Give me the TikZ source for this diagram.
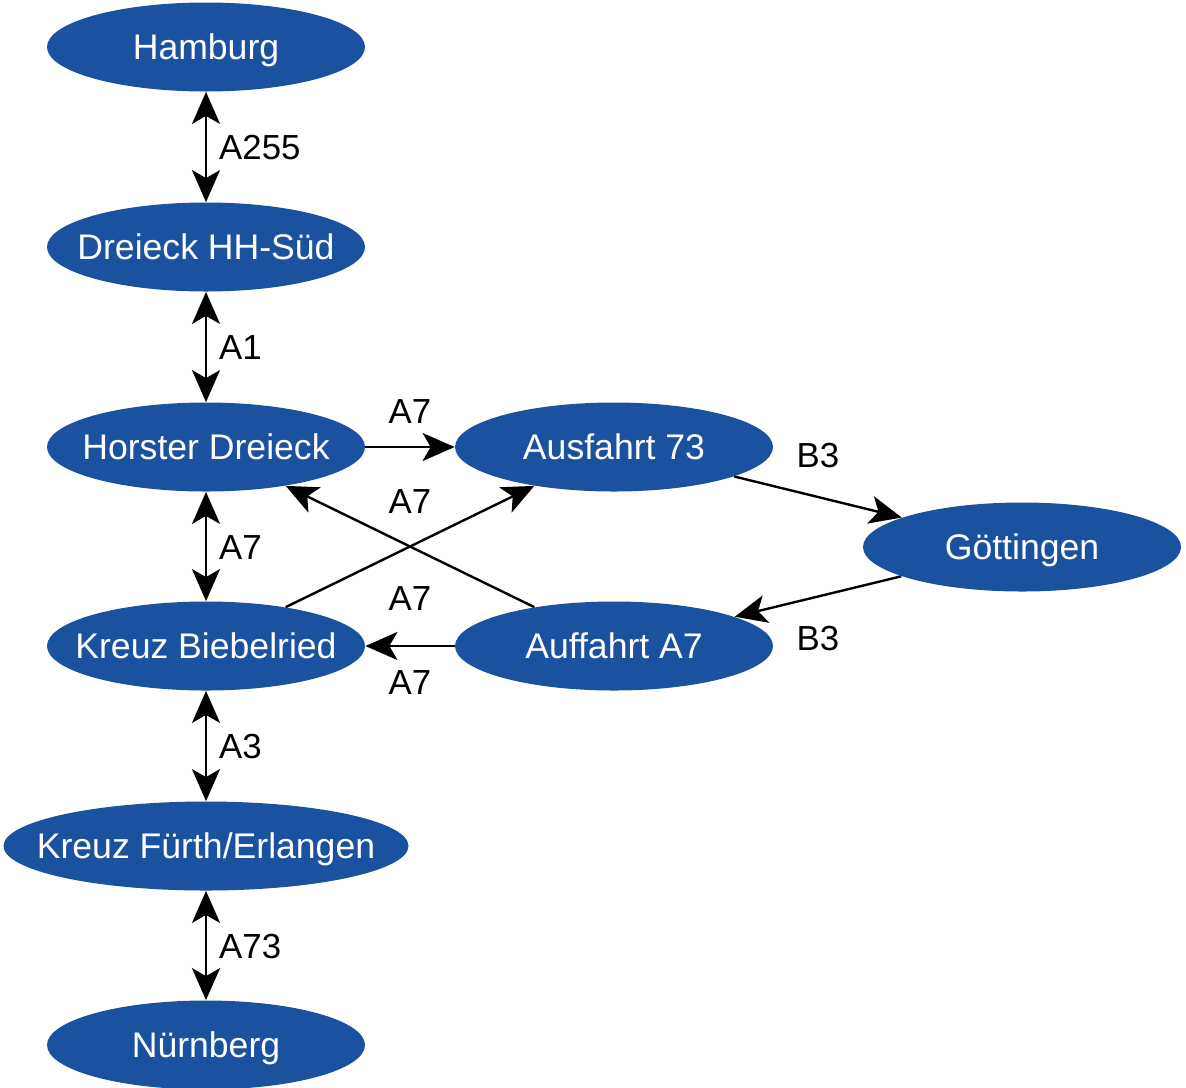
\documentclass[tikz,border=0pt]{standalone}
\usepackage{fontspec}
\setmainfont{Liberation Sans}
\usetikzlibrary{shapes.geometric,arrows.meta}
\definecolor{cityblue}{HTML}{1B52A0}
\newcommand{\cname}[1]{\makebox[0pt]{#1}}

\begin{document}
\begin{tikzpicture}[
  x=0.5pt, y=-0.5pt,
  >={Stealth[length=16pt, width=14pt, inset=4pt]},
  city/.style={ellipse, fill=cityblue, text=white, inner sep=0pt,
    minimum width=159pt, minimum height=44.5pt,
    font=\fontsize{17.8}{21}\selectfont, text height=12.5pt, text depth=0pt},
  road/.style={line width=1.2pt, ->},
  both/.style={line width=1.2pt, <->},
  lbl/.style={inner sep=0pt, font=\fontsize{17.4}{21}\selectfont,
    text height=12.5pt, text depth=0pt}
]
\useasboundingbox (0,0) rectangle (1186,1087);

\node [city] (ham) at (206,47) {\cname{Hamburg}};
\node [city] (hhs) at (206,247) {\cname{Dreieck HH-Süd}};
\node [city] (horst) at (206,447) {\cname{Horster Dreieck}};
\node [city] (biebel) at (206,646) {\cname{Kreuz Biebelried}};
\node [city, minimum width=202.5pt] (fuerth) at (206,846) {\cname{Kreuz Fürth/Erlangen}};
\node [city] (nbg) at (206,1045) {\cname{Nürnberg}};
\node [city] (ausf) at (614,447) {\cname{Ausfahrt 73}};
\node [city] (auff) at (614,646) {\cname{Auffahrt A7}};
\node [city] (goe) at (1022,547) {\cname{Göttingen}};

\draw [both] (ham) -- (hhs) node [lbl, midway, right=6pt] (la255) {A255};
\draw [both] (hhs) -- (horst) node [lbl, midway, right=6pt] (la1) {A1};
\draw [both] (horst) -- (biebel) node [lbl, midway, right=6pt] (la7v) {A7};
\draw [both] (biebel) -- (fuerth) node [lbl, midway, right=6pt] (la3) {A3};
\draw [both] (fuerth) -- (nbg) node [lbl, midway, right=6pt] (la73) {A73};

\draw [road] (horst) -- (ausf) node [lbl, midway, above=11pt] (la7a) {A7};
\draw [road] (biebel) -- (ausf) node [lbl, midway, above=16pt] (la7b) {A7};
\draw [road] (auff) -- (horst) node [lbl, midway, below=19pt] (la7c) {A7};
\draw [road] (auff) -- (biebel) node [lbl, midway, below=11pt] (la7d) {A7};

\draw [road] (ausf) -- (goe) node [lbl, midway, above=14pt] (lb3a) {B3};
\draw [road] (goe) -- (auff) node [lbl, midway, below=14pt] (lb3b) {B3};
\end{tikzpicture}
\end{document}
